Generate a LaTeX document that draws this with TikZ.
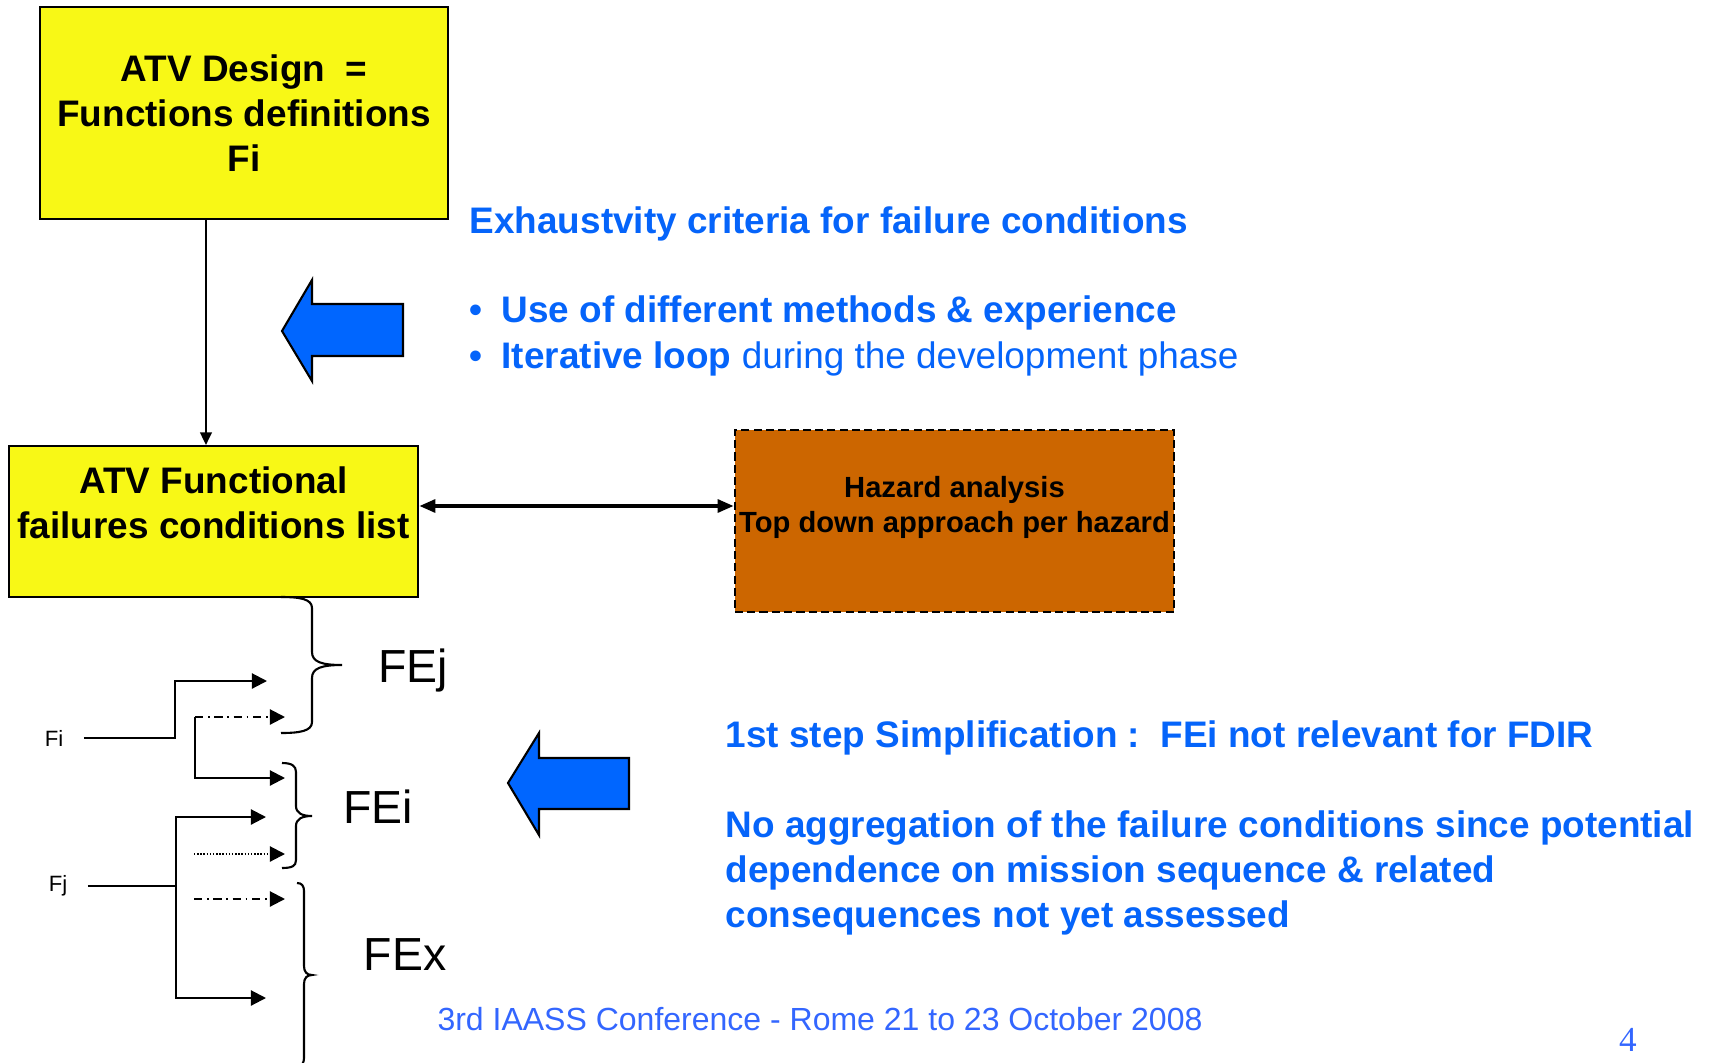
\documentclass[tikz,border=0pt]{standalone}
\usepackage{fontspec}
\setmainfont{Liberation Sans}
\newfontfamily\numfont{Liberation Serif}
\usetikzlibrary{shapes,arrows.meta}
\definecolor{boxyellow}{RGB}{248,248,22}
\definecolor{hazorange}{RGB}{204,102,0}
\definecolor{arrowblue}{RGB}{0,102,255}
\definecolor{textblue}{RGB}{5,100,250}
\definecolor{footblue}{RGB}{51,102,255}

\begin{document}
\begin{tikzpicture}[x=0.01cm,y=-0.01cm,
  boxtext/.style={font=\fontsize{10.5}{12.7}\selectfont\bfseries,align=center},
  bluetext/.style={anchor=west,inner sep=0pt,text=textblue,font=\fontsize{10.5}{12.7}\selectfont\bfseries},
  flabel/.style={font=\fontsize{6.3}{7.5}\selectfont,inner xsep=0.2cm},
  felabel/.style={font=\fontsize{13.2}{15}\selectfont},
  dashdot/.style={dash pattern=on 2.4pt off 1.3pt on 0.5pt off 1.3pt},
  densedots/.style={dash pattern=on 0.4pt off 0.5pt}]
\useasboundingbox (0,0) rectangle (1717,1063);

  % boxes
  \node[fill=boxyellow,rectangle,draw,line width=0.6pt,minimum width=4.08cm,minimum height=2.12cm,boxtext] (design) at (244,113) {ATV Design\ \ =\\Functions definitions\\Fi};
  \node[fill=boxyellow,rectangle,draw,line width=0.6pt,minimum width=4.09cm,minimum height=1.51cm,inner xsep=1pt,boxtext,font=\fontsize{10.5}{12.8}\selectfont\bfseries] (ffl) at (213.5,521.5) {ATV Functional\\failures conditions list\\[-5.7pt]\strut};
  \node[fill=hazorange,rectangle,draw,line width=0.6pt,dash pattern=on 2.3pt off 1.2pt,minimum width=4.39cm,minimum height=1.82cm,inner xsep=1pt,align=center,font=\fontsize{8.3}{10.2}\selectfont\bfseries] (hazard) at (954.5,521) {Hazard analysis\\Top down approach per hazard\\[-3.8pt]\strut};

  \coordinate (down) at ([xshift=-0.38cm]design.south);
  \draw[->,>={Triangle[length=3.6pt,width=3.4pt]},line width=0.45pt] (down) -- (down |- ffl.north);
  \coordinate (link) at ([yshift=0.155cm]ffl.east);
  \draw[<->,>={Triangle[length=4.6pt,width=3.6pt]},line width=1.1pt] (link) -- (link -| hazard.west);

  % big blue arrows
  \filldraw[fill=arrowblue,line width=0.6pt] (282,331) -- (312,280) -- (312,304) -- (403,304) -- (403,356) -- (312,356) -- (312,381) -- cycle;
  \filldraw[fill=arrowblue,line width=0.6pt] (508,783) -- (539,733) -- (539,758) -- (629,758) -- (629,809) -- (539,809) -- (539,835) -- cycle;

  % blue texts
  \node[bluetext] (exhaust) at (469,224) {Exhaustvity criteria for failure conditions};
  \node[bluetext] (methods) at (469,313) {\makebox[0.32cm][l]{\textbullet}Use of different methods \& experience};
  \node[bluetext] (loop) at (469,359) {\makebox[0.32cm][l]{\textbullet}Iterative loop\mdseries\ during the development phase};
  \node[bluetext] (simplif) at (725,738) {1st step Simplification :\ \ FEi not relevant for FDIR};
  \node[bluetext,align=left] (aggreg) at (725,873) {No aggregation of the failure conditions since potential\\dependence on mission sequence \& related\\consequences not yet assessed};

  \node[text=footblue,font=\fontsize{9.1}{11}\selectfont] (footer) at (820,1019) {3rd IAASS Conference - Rome 21 to 23 October 2008};
  \node[text=footblue,font=\fontsize{10}{12}\numfont] (pagenum) at (1628,1040) {4};

  % functions and failure effects
  \node[flabel] (fi) at (54,738) {Fi};
  \node[flabel] (fj) at (58,886) {Fj};
  \coordinate (fej1) at (267,681);
  \coordinate (fej2) at (285,717);
  \coordinate (fork) at (195,717);
  \coordinate (fei1) at (285,778);
  \coordinate (fei2) at (266,817);
  \coordinate (fei3) at (285,854);
  \coordinate (dot0) at (194,854);
  \coordinate (fex1) at (285,899);
  \coordinate (dash0) at (194,899);
  \coordinate (fex2) at (266,998);
  \coordinate (fjtop) at ([xshift=-0.9cm]fei2);

  \begin{scope}[line width=0.6pt,>={Triangle[length=4.3pt,width=4.3pt]}]
    \draw[->] (fi.east) -| ([xshift=-0.92cm]fej1) -- (fej1);
    \draw[->,dashdot] (fork) -- (fej2);
    \draw[->] (fork) |- (fei1);
    \draw[->] (fj.east) -- (fj.east -| fjtop) |- (fei2);
    \draw[->] (fjtop) |- (fex2);
    \draw[->,densedots] (dot0) -- (fei3);
    \draw[->,dashdot] (dash0) -- (fex1);

    % braces
    \draw (281,597) .. controls (300,597) and (312,599) .. (312,608) -- (312,652) .. controls (312,662) and (322,665) .. (342,665) .. controls (322,665) and (312,668) .. (312,678) -- (312,722) .. controls (312,731) and (300,733) .. (281,733);
    \draw (282,763) .. controls (292,763) and (296,766) .. (296,772) -- (296,806) .. controls (296,813) and (302,816) .. (312,816) .. controls (302,816) and (296,819) .. (296,826) -- (296,860) .. controls (296,866) and (292,868) .. (282,868);
    \draw (297,883) .. controls (302,883) and (304,886) .. (304,891) -- (304,966) .. controls (304,972) and (307,975) .. (312,975) .. controls (307,975) and (304,978) .. (304,984) -- (304,1058) .. controls (304,1063) and (302,1066) .. (297,1066);
  \end{scope}

  \node[felabel] (fej) at (413,670) {FEj};
  \node[felabel] (fei) at (378,807) {FEi};
  \node[felabel] (fex) at (405,955) {FEx};

\end{tikzpicture}
\end{document}
